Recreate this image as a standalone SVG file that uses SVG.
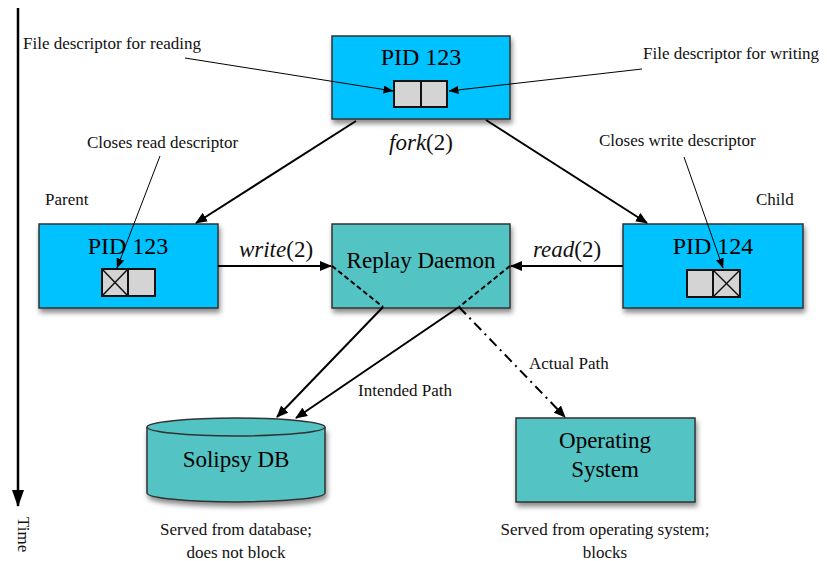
<svg xmlns="http://www.w3.org/2000/svg" width="827" height="561" viewBox="0 0 827 561" font-family="'Liberation Serif', 'DejaVu Serif', serif">
<defs>
<style>
.big{font-size:23px}
.pid{font-size:24px}
.sm{font-size:17px}
.blue{fill:#00C2FF;stroke:#333;stroke-width:1.5}
.teal{fill:#52C3C3;stroke:#333;stroke-width:1.5}
.cell{fill:#D4D4D4;stroke:#111;stroke-width:2}
.x{stroke:#111;stroke-width:1.5}
.thick{stroke:#000;stroke-width:2;fill:none}
.thin{stroke:#000;stroke-width:1;fill:none}
</style>
<filter id="sh" x="-10%" y="-10%" width="130%" height="140%">
<feDropShadow dx="1.5" dy="4" stdDeviation="2.5" flood-color="#000" flood-opacity="0.45"/>
</filter>
<marker id="ah" viewBox="0 0 12 10" refX="11" refY="5" markerWidth="12" markerHeight="10" markerUnits="userSpaceOnUse" orient="auto">
<path d="M0,0 L12,5 L0,10 z" fill="#000"/>
</marker>
<marker id="ahs" viewBox="0 0 10 8" refX="9.5" refY="4" markerWidth="10" markerHeight="8" markerUnits="userSpaceOnUse" orient="auto">
<path d="M0,0 L10,4 L0,8 z" fill="#000"/>
</marker>
<marker id="aht" viewBox="0 0 17 12" refX="16" refY="6" markerWidth="17" markerHeight="12" markerUnits="userSpaceOnUse" orient="auto">
<path d="M0,0 L17,6 L0,12 z" fill="#000"/>
</marker>
</defs>

<g id="time-axis">
<line x1="18" y1="8" x2="18" y2="506" stroke="#000" stroke-width="2.5" marker-end="url(#aht)"/>
<text class="sm" fill="#111" transform="translate(18,517) rotate(90)">Time</text>
</g>

<g id="pid123-top">
<rect class="blue" x="332" y="36" width="178" height="83" filter="url(#sh)"/>
<text class="pid" x="421" y="65" text-anchor="middle">PID 123</text>
<rect class="cell" x="394" y="81" width="27" height="26"/>
<rect class="cell" x="421" y="81" width="26" height="26"/>
</g>

<g id="pid123-parent">
<rect class="blue" x="39" y="224" width="179" height="84" filter="url(#sh)"/>
<text class="pid" x="128" y="254" text-anchor="middle">PID 123</text>
<rect class="cell" x="102" y="269" width="26" height="27"/>
<line class="x" x1="102" y1="269" x2="128" y2="296"/>
<line class="x" x1="128" y1="269" x2="102" y2="296"/>
<rect class="cell" x="128" y="269" width="27" height="27"/>
</g>

<g id="replay-daemon">
<rect class="teal" x="332" y="224" width="178" height="84" filter="url(#sh)"/>
<text class="big" x="421" y="268" text-anchor="middle">Replay Daemon</text>
</g>

<g id="pid124-child">
<rect class="blue" x="623" y="224" width="180" height="84" filter="url(#sh)"/>
<text class="pid" x="713" y="254" text-anchor="middle">PID 124</text>
<rect class="cell" x="687" y="270" width="26" height="27"/>
<rect class="cell" x="713" y="270" width="27" height="27"/>
<line class="x" x1="713" y1="270" x2="740" y2="297"/>
<line class="x" x1="740" y1="270" x2="713" y2="297"/>
</g>

<g id="solipsy-db">
<path d="M147,427 L147,493 A89,9 0 0 0 325,493 L325,427" class="teal" filter="url(#sh)"/>
<ellipse cx="236" cy="427" rx="89" ry="9" class="teal"/>
<text class="big" x="236" y="467" text-anchor="middle">Solipsy DB</text>
</g>

<g id="operating-system">
<rect class="teal" x="516" y="418" width="179" height="84" filter="url(#sh)"/>
<text class="big" x="605" y="448" text-anchor="middle">Operating</text>
<text class="big" x="605" y="477" text-anchor="middle">System</text>
</g>

<g id="connectors">
<line class="thin" x1="185" y1="58" x2="393" y2="91" marker-end="url(#ahs)"/>
<line class="thin" x1="642" y1="69" x2="449" y2="91" marker-end="url(#ahs)"/>
<line class="thin" x1="160" y1="156" x2="117" y2="268" marker-end="url(#ahs)"/>
<line class="thin" x1="684" y1="157" x2="723" y2="268" marker-end="url(#ahs)"/>
<line class="thick" x1="356" y1="121" x2="196" y2="223" marker-end="url(#ah)"/>
<line class="thick" x1="486" y1="120" x2="647" y2="223" marker-end="url(#ah)"/>
<line class="thick" x1="218" y1="266" x2="331" y2="266" marker-end="url(#ah)"/>
<line class="thick" x1="623" y1="266" x2="511" y2="266" marker-end="url(#ah)"/>
<line class="thick" x1="332" y1="266" x2="383" y2="307" stroke-dasharray="5,3"/>
<line class="thick" x1="510" y1="266" x2="459" y2="307" stroke-dasharray="5,3"/>
<line class="thick" x1="383" y1="307" x2="277" y2="417" marker-end="url(#ah)"/>
<line class="thick" x1="459" y1="307" x2="296" y2="418" marker-end="url(#ah)"/>
<line class="thick" x1="459" y1="307" x2="565" y2="417" stroke-dasharray="10,5,2,5" marker-end="url(#ah)"/>
</g>

<g id="labels" fill="#111">
<text class="sm" x="23" y="49">File descriptor for reading</text>
<text class="sm" x="643" y="59">File descriptor for writing</text>
<text class="sm" x="87" y="148">Closes read descriptor</text>
<text class="sm" x="599" y="146">Closes write descriptor</text>
<text class="sm" x="45" y="205">Parent</text>
<text class="sm" x="756" y="205">Child</text>
<text class="big" x="421" y="150" text-anchor="middle"><tspan font-style="italic">fork</tspan>(2)</text>
<text class="big" x="276" y="257" text-anchor="middle"><tspan font-style="italic">write</tspan>(2)</text>
<text class="big" x="567" y="257" text-anchor="middle"><tspan font-style="italic">read</tspan>(2)</text>
<text class="sm" x="358" y="396">Intended Path</text>
<text class="sm" x="529" y="369">Actual Path</text>
<text class="sm" x="236" y="535" text-anchor="middle">Served from database;</text>
<text class="sm" x="236" y="558" text-anchor="middle">does not block</text>
<text class="sm" x="605" y="535" text-anchor="middle">Served from operating system;</text>
<text class="sm" x="605" y="558" text-anchor="middle">blocks</text>
</g>
</svg>
